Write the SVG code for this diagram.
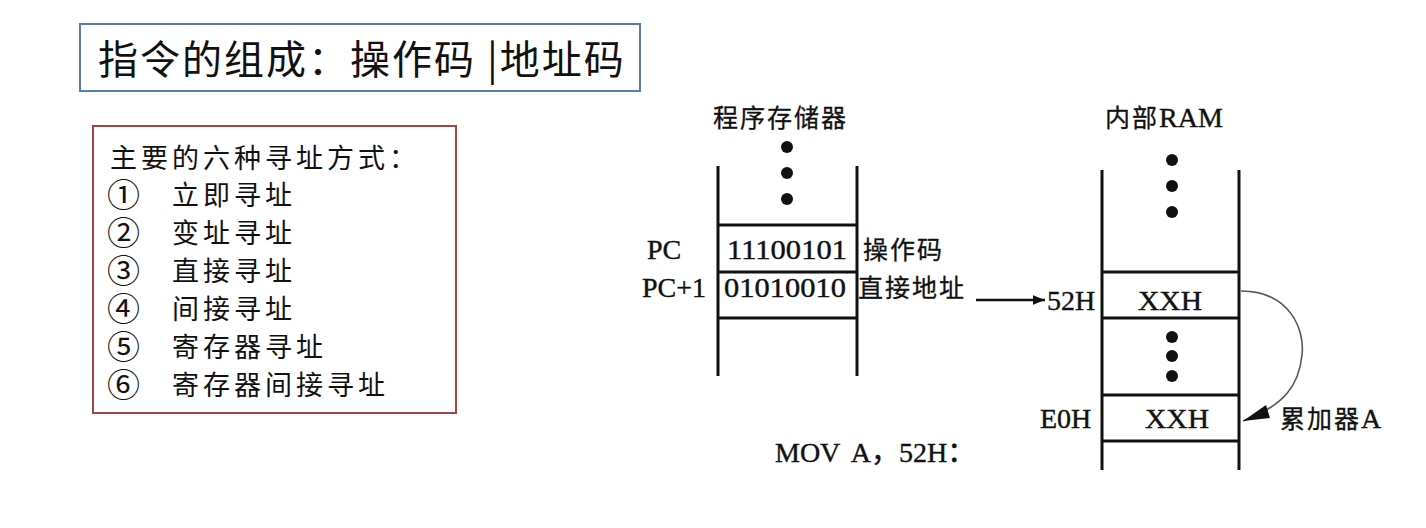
<svg xmlns="http://www.w3.org/2000/svg" width="1426" height="528" viewBox="0 0 1426 528">
<defs>
<style>
.cjk{font-family:"Noto Sans CJK SC","Noto Sans",sans-serif;fill:#111}
.lab{font-family:"Noto Sans CJK SC","Noto Sans",sans-serif;fill:#111;font-size:25px;letter-spacing:2px;stroke:#111;stroke-width:0.3}
.ser{font-family:"Liberation Serif","Noto Sans CJK SC",serif;fill:#111;font-size:28px;stroke:#111;stroke-width:0.4}
.num{font-family:"Noto Sans CJK SC",sans-serif;fill:#111;font-size:33px;letter-spacing:0}
.ln{stroke:#111;stroke-width:3;fill:none}
.dot{fill:#111}
</style>
<marker id="ah" viewBox="0 0 10 10" refX="10" refY="5" markerWidth="24" markerHeight="12" markerUnits="userSpaceOnUse" orient="auto"><path d="M0,1 L10,5 L0,9 z" fill="#111"/></marker>
</defs>
<rect width="1426" height="528" fill="#fff"/>
<g id="title">
<rect x="80" y="24" width="560" height="67" fill="#fff" stroke="#5a7bb0" stroke-width="2"/>
<text class="cjk" x="98" y="74" font-size="40" letter-spacing="2">指令的组成：操作码 |地址码</text>
</g>
<g id="modes">
<rect x="93" y="126" width="363" height="287" fill="#fff" stroke="#a0463e" stroke-width="2"/>
<text class="cjk" x="110" y="168" font-size="27" letter-spacing="4">主要的六种寻址方式：</text>
<g class="cjk" font-size="27" letter-spacing="4">
<text class="num" x="107" y="207">①</text><text x="172" y="205">立即寻址</text>
<text class="num" x="107" y="245">②</text><text x="172" y="243">变址寻址</text>
<text class="num" x="107" y="283">③</text><text x="172" y="281">直接寻址</text>
<text class="num" x="107" y="321">④</text><text x="172" y="319">间接寻址</text>
<text class="num" x="107" y="359">⑤</text><text x="172" y="357">寄存器寻址</text>
<text class="num" x="107" y="397">⑥</text><text x="172" y="395">寄存器间接寻址</text>
</g>
</g>
<g id="prog-mem">
<text class="lab" x="713" y="127">程序存储器</text>
<circle class="dot" cx="787" cy="147" r="6"/><circle class="dot" cx="787" cy="173" r="6"/><circle class="dot" cx="787" cy="199" r="6"/>
<path class="ln" d="M718,166 V376 M857,166 V376 M718,225 H857 M718,272 H857 M718,318 H857"/>
<text class="ser" x="647" y="259">PC</text>
<text class="ser" x="727" y="259" textLength="120" lengthAdjust="spacingAndGlyphs">11100101</text>
<text class="lab" x="863" y="259">操作码</text>
<text class="ser" x="642" y="297">PC+1</text>
<text class="ser" x="724" y="297" textLength="122" lengthAdjust="spacingAndGlyphs">01010010</text>
<text class="lab" x="858" y="297">直接地址</text>
<text class="ser" x="775" y="462">MOV<tspan dx="14">A，52H：</tspan></text>
</g>
<g id="ram">
<text class="lab" x="1105" y="127">内部<tspan class="ser" letter-spacing="0">RAM</tspan></text>
<circle class="dot" cx="1172" cy="160" r="6"/><circle class="dot" cx="1172" cy="186" r="6"/><circle class="dot" cx="1172" cy="212" r="6"/>
<circle class="dot" cx="1172" cy="337" r="6"/><circle class="dot" cx="1172" cy="356" r="6"/><circle class="dot" cx="1172" cy="376" r="6"/>
<path class="ln" d="M1102,170 V470 M1239,170 V470 M1102,272 H1239 M1102,318 H1239 M1102,395 H1239 M1102,441 H1239"/>
<text class="ser" x="1047" y="310">52H</text>
<text class="ser" x="1138" y="310" textLength="64" lengthAdjust="spacingAndGlyphs">XXH</text>
<text class="ser" x="1040" y="428">E0H</text>
<text class="ser" x="1145" y="428" textLength="64" lengthAdjust="spacingAndGlyphs">XXH</text>
<text class="lab" x="1280" y="428">累加器<tspan class="ser" letter-spacing="0">A</tspan></text>
</g>
<g id="connectors">
<path d="M976,300 H1045" stroke="#111" stroke-width="2.5" fill="none" marker-end="url(#ah)"/>
<path d="M1241,291 C1290,291 1305,330 1302,355 C1299,385 1285,405 1243,421" stroke="#555" stroke-width="1.6" fill="none"/>
<path d="M1243,421 L1266,405 L1270,418 z" fill="#111"/>
</g>
</svg>
